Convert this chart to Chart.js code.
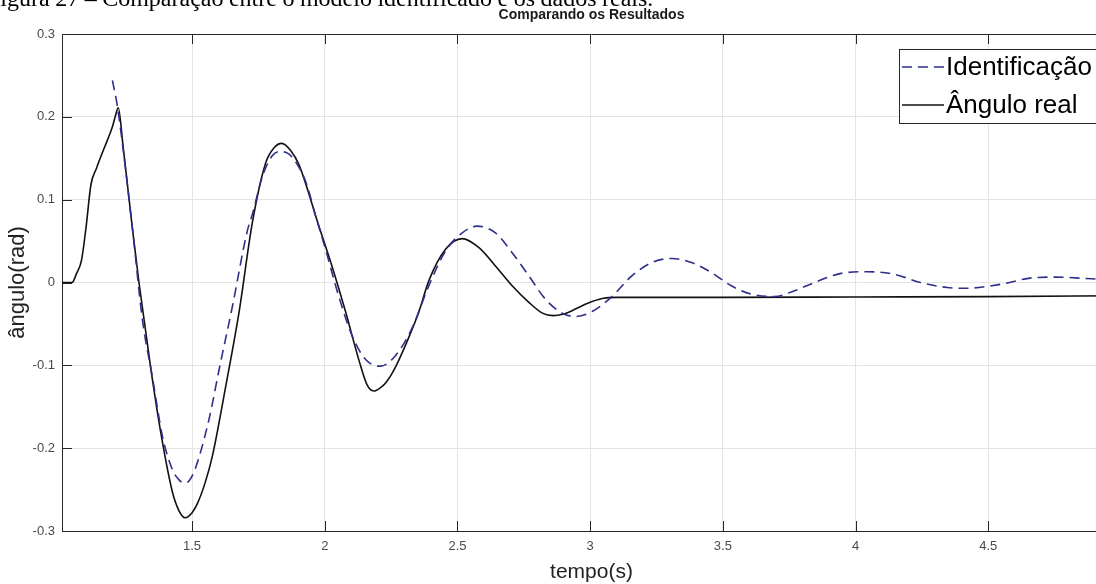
<!DOCTYPE html>
<html><head><meta charset="utf-8">
<script src="https://cdn.jsdelivr.net/npm/chart.js@4/dist/chart.umd.min.js"></script>
<style>
html,body{margin:0;padding:0;overflow:hidden;background:#fff;width:1096px;height:584px}
#wrap{position:relative;width:1130px;height:584px}
#c{position:absolute;left:0;top:0}
#cap{position:absolute;left:-13px;top:-15px;font-family:"Liberation Serif","Times New Roman",serif;font-size:24px;line-height:normal;white-space:nowrap;color:#000;word-spacing:-0.5px}
</style></head><body>
<div id="wrap"><canvas id="c" width="1130" height="584"></canvas>
<div id="cap">Figura 27 – Comparação entre o modelo identificado e os dados reais.</div></div>
<script>
// ---- data ----
const realT = [1.01,1.048,1.065,1.083,1.10,1.119,1.14,1.16,1.18,1.199,1.212,1.222,1.24,1.275,1.30,1.345,1.382,1.426,1.45,1.474,1.50,1.52,1.55,1.577,1.627,1.677,1.727,1.777,1.81,1.838,1.87,1.903,1.978,2.027,2.079,2.129,2.16,2.185,2.21,2.23,2.253,2.28,2.317,2.355,2.392,2.455,2.518,2.581,2.643,2.706,2.769,2.82,2.86,2.90,2.932,2.97,3.007,3.05,3.10,3.5,4.0,4.5,5.0];
const realV = [0,0,0.011,0.026,0.065,0.118,0.138,0.155,0.171,0.187,0.202,0.211,0.165,0.066,0.0,-0.105,-0.181,-0.253,-0.275,-0.284,-0.278,-0.267,-0.241,-0.209,-0.125,-0.036,0.072,0.144,0.163,0.168,0.16,0.142,0.068,0.02,-0.036,-0.094,-0.124,-0.131,-0.127,-0.121,-0.110,-0.093,-0.066,-0.035,0.002,0.040,0.053,0.042,0.020,-0.004,-0.024,-0.037,-0.040,-0.038,-0.034,-0.028,-0.023,-0.019,-0.018,-0.018,-0.0175,-0.017,-0.016];
const identT = [1.2,1.219,1.275,1.313,1.35,1.388,1.426,1.45,1.47,1.49,1.514,1.564,1.602,1.652,1.708,1.727,1.765,1.802,1.828,1.855,1.878,1.928,1.966,2.003,2.053,2.104,2.154,2.21,2.267,2.329,2.392,2.455,2.518,2.574,2.643,2.706,2.769,2.831,2.894,2.944,3.007,3.082,3.157,3.232,3.307,3.382,3.457,3.532,3.607,3.695,3.77,3.845,3.945,4.045,4.145,4.245,4.345,4.41,4.55,4.664,4.75,4.89,5.0];
const identV = [0.244,0.212,0.066,-0.045,-0.113,-0.185,-0.226,-0.238,-0.242,-0.239,-0.223,-0.165,-0.105,-0.029,0.062,0.082,0.128,0.153,0.158,0.157,0.151,0.122,0.080,0.04,-0.017,-0.065,-0.093,-0.101,-0.088,-0.055,-0.004,0.038,0.060,0.068,0.060,0.036,0.008,-0.020,-0.037,-0.041,-0.035,-0.017,0.008,0.024,0.029,0.024,0.012,-0.004,-0.014,-0.017,-0.010,0.0,0.011,0.013,0.010,0.0,-0.006,-0.007,-0.002,0.0056,0.0065,0.0045,0.003];
const xTicks = [1.5,2,2.5,3,3.5,4,4.5];
const yTicks = [-0.3,-0.2,-0.1,0,0.1,0.2,0.3];
const seriesLabels = ['Identificação','Ângulo real'];
const chartTitle = 'Comparando os Resultados';
const xTitle = 'tempo(s)';
const yTitle = 'ângulo(rad)';

const toPts = (t,v) => t.map((x,i)=>({x:x,y:v[i]}));

const frame = {
  id:'frame',
  beforeDatasetsDraw(chart){
    const {ctx, chartArea:a, scales:{x,y}} = chart;
    ctx.save();
    ctx.strokeStyle='#262626'; ctx.lineWidth=1;
    ctx.beginPath();
    ctx.moveTo(a.left, a.top+0.5); ctx.lineTo(a.right, a.top+0.5);
    xTicks.forEach(v=>{const px=Math.round(x.getPixelForValue(v))+0.5;
      ctx.moveTo(px,a.bottom); ctx.lineTo(px,a.bottom-10);
      ctx.moveTo(px,a.top); ctx.lineTo(px,a.top+10);});
    yTicks.forEach(v=>{const py=Math.round(y.getPixelForValue(v))+0.5;
      ctx.moveTo(a.left,py); ctx.lineTo(a.left+10,py);});
    ctx.stroke();
    ctx.restore();
  },
  afterDraw(chart){
    const {ctx, chartArea:a} = chart;
    ctx.save();
    ctx.fillStyle='#1a1a1a';
    ctx.font='bold 14px "Liberation Sans", Arial, sans-serif';
    ctx.textAlign='center'; ctx.textBaseline='middle';
    ctx.fillText(chartTitle,(a.left+a.right)/2,15);
    const bx=899.5, by=49.5, bw=215, bh=74;
    ctx.fillStyle='#fff'; ctx.fillRect(bx,by,bw,bh);
    ctx.strokeStyle='#262626'; ctx.lineWidth=1; ctx.strokeRect(bx,by,bw,bh);
    const rows=[67,105];
    chart.data.datasets.forEach((ds,i)=>{
      ctx.save();
      ctx.strokeStyle=ds.borderColor; ctx.lineWidth=1.3;
      ctx.setLineDash(ds.borderDash||[]);
      ctx.beginPath(); ctx.moveTo(902,rows[i]); ctx.lineTo(944,rows[i]); ctx.stroke();
      ctx.restore();
      ctx.fillStyle='#000';
      ctx.font='26px "Liberation Sans", Arial, sans-serif';
      ctx.textAlign='left'; ctx.textBaseline='middle';
      ctx.fillText(ds.label,946,rows[i]+1);
    });
    ctx.restore();
  }
};

new Chart(document.getElementById('c'),{
  type:'line',
  data:{datasets:[
    {label:seriesLabels[0],data:toPts(identT,identV),borderColor:'#2e2e8c',borderWidth:1.6,borderDash:[10,6],pointRadius:0,cubicInterpolationMode:'monotone',fill:false},
    {label:seriesLabels[1],data:toPts(realT,realV),borderColor:'#111111',borderWidth:1.6,pointRadius:0,cubicInterpolationMode:'monotone',fill:false}
  ]},
  options:{
    responsive:false,animation:false,
    layout:{padding:{top:34,right:9,bottom:0,left:0}},
    plugins:{legend:{display:false},title:{display:false},tooltip:{enabled:false}},
    scales:{
      x:{type:'linear',min:1.01,max:5.0,
        afterBuildTicks:s=>{s.ticks=xTicks.map(v=>({value:v}));},
        afterFit:s=>{s.height=53;},
        grid:{color:'#e4e4e4',drawTicks:false,lineWidth:1},
        border:{display:true,color:'#262626',width:1},
        ticks:{padding:8,color:'#4a4a4a',font:{size:13,family:'"Liberation Sans", Arial, sans-serif'},callback:v=>String(v),maxRotation:0},
        title:{display:true,text:xTitle,color:'#222',font:{size:21,lineHeight:1.1,family:'"Liberation Sans", Arial, sans-serif'},padding:{top:0,bottom:0}}
      },
      y:{type:'linear',min:-0.3,max:0.3,
        afterBuildTicks:s=>{s.ticks=yTicks.map(v=>({value:v}));},
        afterFit:s=>{s.width=62;},
        grid:{color:'#e4e4e4',drawTicks:false,lineWidth:1},
        border:{display:true,color:'#262626',width:1},
        ticks:{padding:7,color:'#4a4a4a',font:{size:13,family:'"Liberation Sans", Arial, sans-serif'},callback:v=>String(Math.round(v*10)/10)},
        title:{display:true,text:yTitle,color:'#222',font:{size:22,lineHeight:1.2,family:'"Liberation Sans", Arial, sans-serif'},padding:{top:5,bottom:0}}
      }
    }
  },
  plugins:[frame]
});
</script>
</body></html>
